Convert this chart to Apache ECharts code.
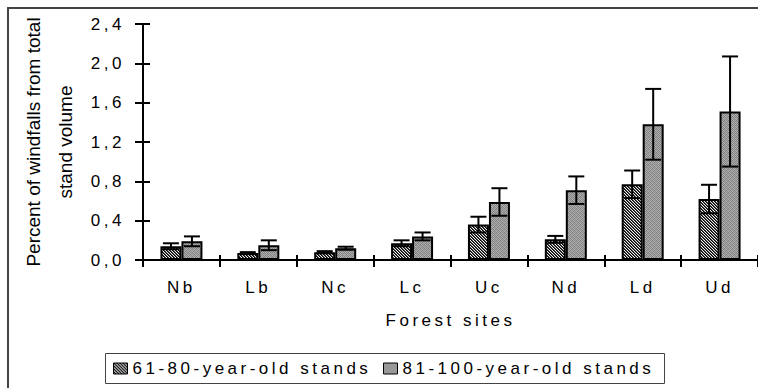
<!DOCTYPE html>
<html><head><meta charset="utf-8">
<script src="https://cdn.jsdelivr.net/npm/echarts@6/dist/echarts.min.js"></script>
<style>
html,body{margin:0;padding:0;background:#fff;overflow:hidden}
#c{width:758px;height:388px}
#c text{letter-spacing:3.5px}
#c text[style*="Arial"]{letter-spacing:0}
</style></head><body><div id="c"></div>
<script>
const categories = ['Nb','Lb','Nc','Lc','Uc','Nd','Ld','Ud'];
const young = [0.14, 0.07, 0.08, 0.17, 0.36, 0.21, 0.77, 0.62];
const youngErr = [0.03, 0.01, 0.01, 0.03, 0.08, 0.035, 0.14, 0.145];
const old = [0.19, 0.15, 0.12, 0.24, 0.59, 0.71, 1.38, 1.51];
const oldErr = [0.05, 0.05, 0.015, 0.04, 0.14, 0.14, 0.36, 0.56];
const seriesNames = ['61-80-year-old stands', '81-100-year-old stands'];
const yMin = 0, yMax = 2.4, yStep = 0.4;

function makePattern(n, fn){
  const c = document.createElement('canvas'); c.width = n; c.height = n;
  const ctx = c.getContext('2d');
  for (let y = 0; y < n; y++) for (let x = 0; x < n; x++) { ctx.fillStyle = fn(x, y); ctx.fillRect(x, y, 1, 1); }
  return {image: c, repeat: 'repeat', imageWidth: n, imageHeight: n};
}
const hatchCols = ['#000', '#4a4a4a', '#f0f0f0'];
const hatch = makePattern(3, (x, y) => hatchCols[((x - y) % 3 + 3) % 3]);
const grainTbl = [['#7a7a7a','#b0b0b0','#8c8c8c','#a8a8a8'],['#a4a4a4','#858585','#b4b4b4','#7e7e7e'],['#909090','#acacac','#7c7c7c','#b2b2b2'],['#b0b0b0','#828282','#a6a6a6','#888888']];
const grain = makePattern(4, (x, y) => grainTbl[y][x]);

const BW = 21;
function errRender(side){
  return function(params, api){
    const i = api.value(0), v = api.value(1), e = api.value(2);
    const t = api.coord([i, v + e]), b = api.coord([i, v - e]);
    const x = t[0] + side * BW / 2, hw = 8;
    const st = {stroke: '#000', lineWidth: 2};
    return {type: 'group', children: [
      {type: 'line', shape: {x1: x, y1: t[1], x2: x, y2: b[1]}, style: st},
      {type: 'line', shape: {x1: x - hw, y1: t[1], x2: x + hw, y2: t[1]}, style: st},
      {type: 'line', shape: {x1: x - hw, y1: b[1], x2: x + hw, y2: b[1]}, style: st}
    ]};
  };
}
const FF = 'Liberation Sans';
const lbl = {color: '#000', fontSize: 17, fontFamily: FF};
const legendBase = {top: 360, padding: 0, itemWidth: 14, itemHeight: 11, icon: 'rect',
  itemStyle: {borderWidth: 1, borderColor: '#000'}, textStyle: lbl};
const chart = echarts.init(document.getElementById('c'), null, {renderer: 'svg'});
chart.setOption({
  animation: false,
  backgroundColor: '#fff',
  grid: {left: 143, top: 24, bottom: 128, right: -9},
  graphic: [
    {type: 'rect', shape: {x: 8, y: 8, width: 800, height: 400}, style: {fill: 'none', stroke: '#444', lineWidth: 2}, silent: true},
    {type: 'rect', shape: {x: 105.5, y: 353.5, width: 559, height: 30}, style: {fill: 'none', stroke: '#444', lineWidth: 1}, silent: true}
  ],
  legend: [
    Object.assign({left: 113, data: [seriesNames[0]]}, legendBase),
    Object.assign({left: 383, data: [seriesNames[1]]}, legendBase)
  ],
  xAxis: [{
    type: 'category', data: categories, position: 'bottom',
    axisLine: {lineStyle: {color: '#000', width: 2}},
    axisTick: {show: true, length: 7, lineStyle: {color: '#000', width: 2}},
    axisLabel: Object.assign({interval: 0, margin: 19}, lbl),
    name: 'Forest sites', nameLocation: 'middle', nameGap: 52,
    nameTextStyle: lbl
  }, {
    type: 'category', data: categories, position: 'bottom',
    axisLine: {show: false},
    axisTick: {show: true, inside: true, length: 5, lineStyle: {color: '#000', width: 2}},
    axisLabel: {show: false}
  }],
  yAxis: [{
    type: 'value', min: yMin, max: yMax, interval: yStep, position: 'left',
    axisLine: {show: true, lineStyle: {color: '#000', width: 2}},
    axisTick: {show: true, length: 8, lineStyle: {color: '#000', width: 2}},
    splitLine: {show: false},
    axisLabel: Object.assign({margin: 18, formatter: v => v.toFixed(1).replace('.', ',')}, lbl),
    name: 'Percent of windfalls from total\nstand volume', nameLocation: 'middle', nameGap: 62,
    nameTextStyle: {color: '#000', fontSize: 19, lineHeight: 32, fontFamily: FF + ', Arial', align: 'center'}
  }, {
    type: 'value', min: yMin, max: yMax, interval: yStep, position: 'left',
    axisLine: {show: false},
    axisTick: {show: true, inside: true, length: 7, lineStyle: {color: '#000', width: 2}},
    splitLine: {show: false},
    axisLabel: {show: false}
  }],
  series: [
    {name: seriesNames[0], type: 'bar', data: young, barWidth: BW, barGap: '0%',
     itemStyle: {color: hatch, borderColor: '#000', borderWidth: 2}},
    {name: seriesNames[1], type: 'bar', data: old, barWidth: BW, barGap: '0%',
     itemStyle: {color: grain, borderColor: '#000', borderWidth: 2}},
    {type: 'custom', renderItem: errRender(-1), z: 5, encode: {x: 0, y: 1},
     data: categories.map((c, i) => [i, young[i], youngErr[i]])},
    {type: 'custom', renderItem: errRender(1), z: 5, encode: {x: 0, y: 1},
     data: categories.map((c, i) => [i, old[i], oldErr[i]])}
  ]
});
</script></body></html>
